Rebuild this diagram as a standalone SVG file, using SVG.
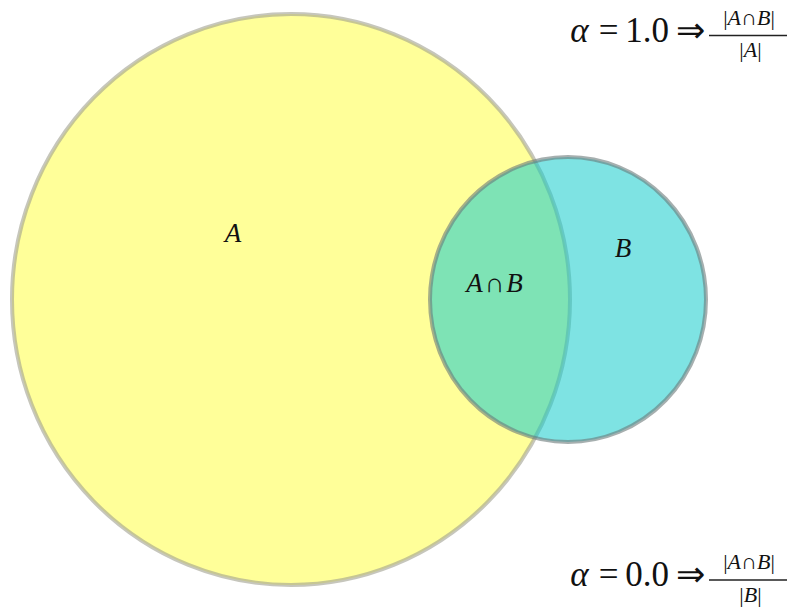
<svg xmlns="http://www.w3.org/2000/svg" width="789" height="609" viewBox="0 0 789 609">
<rect width="789" height="609" fill="#fff"/>
<g id="setA">
<ellipse cx="291" cy="299.5" rx="279" ry="285.5" fill="#ffff99" stroke="#a0a090" stroke-opacity="0.6" stroke-width="4"/>
</g>
<g id="setB">
<ellipse cx="568" cy="299.5" rx="138" ry="142.5" fill="#14cccc" fill-opacity="0.55" stroke="#6a7a7a" stroke-opacity="0.6" stroke-width="4"/>
</g>
<g id="connectors"></g>
<g id="labels" fill="#111" font-family="Liberation Serif" font-size="27" font-style="italic" text-anchor="middle">
<text x="233" y="242">A</text>
<text x="494.5" y="292">A<tspan font-style="normal" dx="2">∩</tspan><tspan dx="2">B</tspan></text>
<text x="623" y="257">B</text>
</g>
<g id="formula1" fill="#111" font-family="Liberation Serif" text-anchor="middle">
<text font-size="35" font-style="italic" x="579.5" y="42">α</text>
<text font-size="35" x="608.5" y="42">=</text>
<text font-size="35" x="647" y="42">1.0</text>
<text font-size="35" x="690" y="42">⇒</text>
<text font-size="22" x="749" y="25">|<tspan font-style="italic">A</tspan>∩<tspan font-style="italic">B</tspan>|</text>
<line stroke="#222" stroke-width="1.3" x1="709" y1="35.5" x2="787" y2="35.5"/>
<text font-size="22" x="750.5" y="57">|<tspan font-style="italic">A</tspan>|</text>
</g>
<g id="formula2" fill="#111" font-family="Liberation Serif" text-anchor="middle">
<text font-size="35" font-style="italic" x="579.5" y="586">α</text>
<text font-size="35" x="608.5" y="586">=</text>
<text font-size="35" x="647" y="586">0.0</text>
<text font-size="35" x="690" y="586">⇒</text>
<text font-size="22" x="749" y="569">|<tspan font-style="italic">A</tspan>∩<tspan font-style="italic">B</tspan>|</text>
<line stroke="#222" stroke-width="1.3" x1="709" y1="580" x2="787" y2="580"/>
<text font-size="22" x="750.5" y="602">|<tspan font-style="italic">B</tspan>|</text>
</g>
</svg>
